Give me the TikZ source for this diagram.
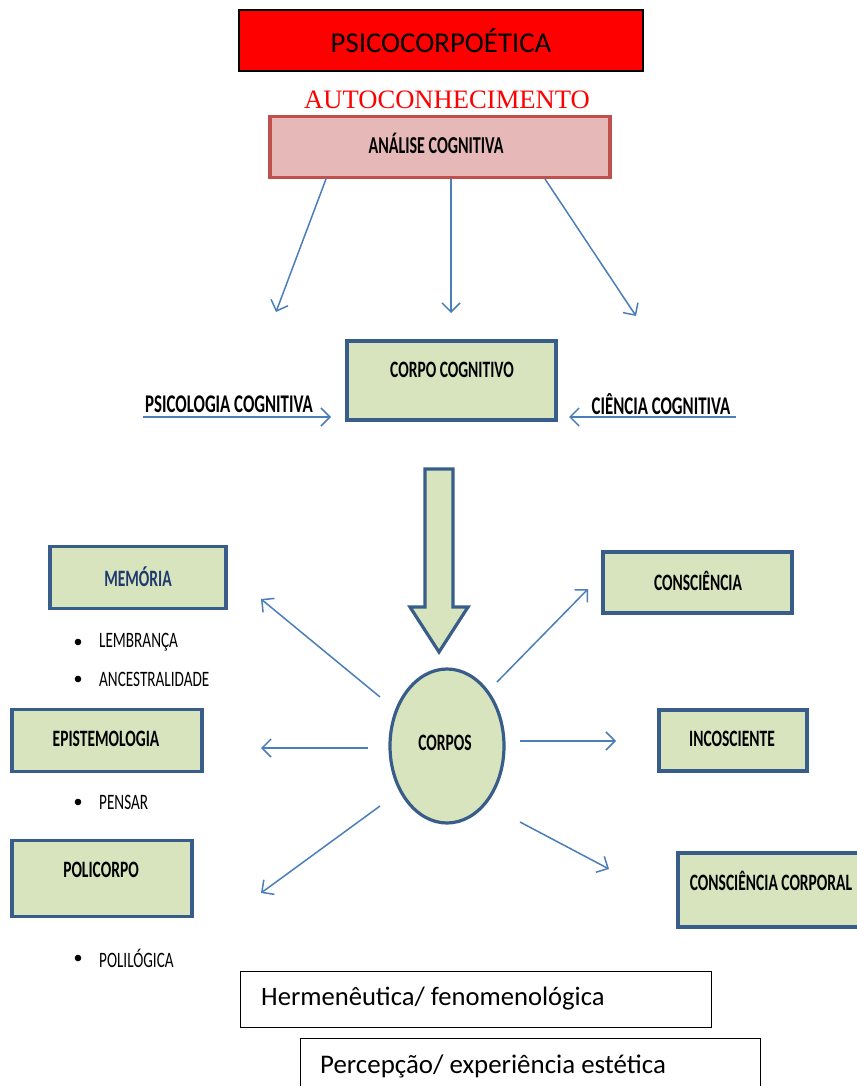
\documentclass[tikz,border=0pt]{standalone}
\usepackage{fontspec}
\setmainfont{Carlito}
\newfontfamily\condfont{Carlito}[FakeStretch=0.66]
\newfontfamily\itemfont{Carlito}[FakeStretch=0.69]
\newfontfamily\timesfont{Liberation Serif}
\usetikzlibrary{arrows.meta,shapes.geometric}

\definecolor{boxgreen}{HTML}{D7E4BD}
\definecolor{boxblue}{HTML}{385D8A}
\definecolor{linkblue}{HTML}{4A7EBB}
\definecolor{pinkfill}{HTML}{E6B9B8}
\definecolor{pinkedge}{HTML}{C0504D}
\definecolor{navytext}{HTML}{1F3A6E}

\tikzset{
  gbox/.style={draw=boxblue, fill=boxgreen, line width=3.2pt, inner sep=0pt},
  lbl/.style={font=\condfont\bfseries\fontsize{23.5}{26}\selectfont, inner sep=0pt},
  biglbl/.style={font=\condfont\bfseries\fontsize{25.5}{28}\selectfont, inner sep=0pt},
  itemtext/.style={font=\itemfont\fontsize{22}{24}\selectfont, anchor=west, inner sep=0pt},
  plain/.style={draw=black, line width=1pt, inner sep=0pt, anchor=north west},
  link/.style={draw=linkblue, line width=1.5pt,
    -{Straight Barb[length=9pt, width=18pt, line width=1.5pt]}},
}

\begin{document}
\begin{tikzpicture}[x=1pt, y=-1pt]
\useasboundingbox (0,0) rectangle (856,1086);

% title block
\node[draw=black, fill=red, line width=2pt, minimum width=404pt, minimum height=61pt,
      inner sep=0pt, font=\fontsize{28.8}{30}\selectfont] (title) at (441,40.5) {PSICOCORPOÉTICA};
\node[text=red, inner sep=0pt, font=\timesfont\fontsize{26.6}{28}\selectfont] (auto) at (447,100) {AUTOCONHECIMENTO};

% cognitive analysis
\node[draw=pinkedge, fill=pinkfill, line width=3.2pt, minimum width=340pt, minimum height=61pt,
      inner sep=0pt] (ana) at (440,147) {};
\node[lbl, font=\condfont\bfseries\fontsize{24.3}{26}\selectfont] (analbl) at (436,143) {ANÁLISE  COGNITIVA};

\coordinate (a1) at (326,179);
\coordinate (a2) at (451,179);
\coordinate (a3) at (545,179);
\coordinate (b1) at (276,312);
\coordinate (b2) at (451,313);
\coordinate (b3) at (636,316);
\draw[link] (a1) -- (b1);
\draw[link] (a2) -- (b2);
\draw[link] (a3) -- (b3);

% cognitive body
\node[gbox, minimum width=209pt, minimum height=79pt] (cc) at (451.5,380.5) {};
\node[lbl] (cclbl) at (452,370) {CORPO COGNITIVO};

\node[biglbl] (psi) at (229,404) {PSICOLOGIA COGNITIVA};
\node[biglbl] (cie) at (661,404) {CIÊNCIA COGNITIVA};
\coordinate (psiS) at (143,417);
\coordinate (psiE) at (331,417);
\coordinate (cieS) at (736,417);
\coordinate (cieE) at (569,417);
\draw[link] (psiS) -- (psiE);
\draw[link] (cieS) -- (cieE);

% block arrow down to the bodies
\draw[draw=boxblue, fill=boxgreen, line width=3.2pt, line join=miter]
  (425,469) -- (453,469) -- (453,607) -- (468,607) -- (439,652) -- (410,607) -- (425,607) -- cycle;

% central ellipse
\node[ellipse, draw=boxblue, fill=boxgreen, line width=3.2pt, minimum width=114pt,
      minimum height=154pt, inner sep=0pt] (corpos) at (447,746) {};
\node[lbl] (corposlbl) at (445,743) {CORPOS};

% left column
\node[gbox, minimum width=176pt, minimum height=62pt] (mem) at (138,577.5) {};
\node[lbl, text=navytext] (memlbl) at (138,577) {MEMÓRIA};
\node[gbox, minimum width=190pt, minimum height=62pt] (epi) at (107,740.5) {};
\node[lbl] (epilbl) at (106,739) {EPISTEMOLOGIA};
\node[gbox, minimum width=180pt, minimum height=76pt] (poli) at (102,878.5) {};
\node[lbl] (polilbl) at (101,870) {POLICORPO};

\foreach \yy/\tt/\nm in {642/LEMBRANÇA/it1, 679/ANCESTRALIDADE/it2, 802/PENSAR/it3, 958/POLILÓGICA/it4}{
  \fill (78,\yy) circle (3.3pt);
  \node[itemtext] (\nm) at (99,\yy) {\tt};
}

% right column
\node[gbox, minimum width=189pt, minimum height=61pt] (cons) at (697.5,582.5) {};
\node[lbl] (conslbl) at (698,581) {CONSCIÊNCIA};
\node[gbox, minimum width=148pt, minimum height=61pt] (inc) at (733,740.5) {};
\node[lbl] (inclbl) at (732,739) {INCOSCIENTE};
\node[gbox, minimum width=184pt, minimum height=74pt] (ccorp) at (770,890) {};
\node[lbl] (ccorplbl) at (771,881) {CONSCIÊNCIA CORPORAL};

% rays from the bodies
\coordinate (r1s) at (380,697); \coordinate (r1e) at (261,599);
\coordinate (r2s) at (368,748); \coordinate (r2e) at (261,748);
\coordinate (r3s) at (380,806); \coordinate (r3e) at (261,893);
\coordinate (r4s) at (497,682); \coordinate (r4e) at (588,589);
\coordinate (r5s) at (520,741); \coordinate (r5e) at (616,741);
\coordinate (r6s) at (520,822); \coordinate (r6e) at (609,869);
\foreach \k in {1,...,6}{ \draw[link] (r\k s) -- (r\k e); }

% lower text boxes
\node[plain, minimum width=471pt, minimum height=56pt] (herm) at (240,971) {};
\node[anchor=west, inner sep=0pt, font=\fontsize{26.6}{28}\selectfont] (hermlbl) at (261,999) {Hermenêutica/ fenomenológica};
\node[plain, minimum width=460pt, minimum height=60pt] (perc) at (300,1038) {};
\node[anchor=west, inner sep=0pt, font=\fontsize{26.9}{28}\selectfont] (perclbl) at (320,1066) {Percepção/ experiência estética};
\end{tikzpicture}
\end{document}
